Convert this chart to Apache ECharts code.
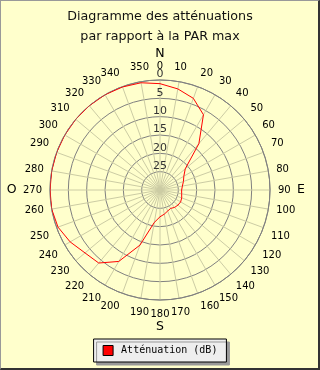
<!DOCTYPE html>
<html><head><meta charset="utf-8">
<script src="https://cdn.jsdelivr.net/npm/echarts@6/dist/echarts.min.js"></script>
<style>
html,body{margin:0;padding:0;background:#fff}
#wrap{position:relative;width:320px;height:370px}
#c{position:absolute;left:0;top:0;width:320px;height:370px;background:#ffffcc}
#frame{position:absolute;left:0;top:0;width:320px;height:370px;box-sizing:border-box;border:1px solid #999;border-right:2px solid #333;border-bottom:2px solid #333;pointer-events:none}
</style>
</head><body>
<div id="wrap"><div id="c"></div><div id="frame"></div></div>
<script>
// Compass angles (degrees, clockwise from North)
const angles = [0,10,20,30,40,50,60,70,80,90,100,110,120,130,140,150,160,170,180,190,200,210,220,230,240,250,260,270,280,290,300,310,320,330,340,350];
// Attenuation in dB
const attenuation = [1.0,2.0,3.4,6.3,13.5,21.0,22.5,23.2,23.8,24.1,24.0,23.7,23.5,23.6,23.8,24.2,23.9,23.3,22.7,21.0,14.0,7.5,4.0,3.3,1.7,0.4,0,0,0,0,0,0,0,0,0.1,0.3];
const seriesName = 'Atténuation (dB)';
const titleLines = ['Diagramme des atténuations', 'par rapport à la PAR max'];
const compass = {0:'N', 90:'E', 180:'S', 270:'O'};
const radialMax = 30;

const data = angles.map((a, i) => [attenuation[i], a]);
data.push([attenuation[0], 360]);

const chart = echarts.init(document.getElementById('c'), null, {renderer:'canvas'});
chart.setOption({
  animation: false,
  backgroundColor: '#ffffcc',
  title: {
    text: titleLines.join('\n'),
    left: 'center', top: 2,
    textStyle: {fontFamily:'DejaVu Sans', fontSize:12.7, fontWeight:'normal', color:'#111', lineHeight:20}
  },
  legend: {
    data: [{name: seriesName, icon: 'rect'}],
    bottom: 8, left: 'center',
    itemWidth: 10, itemHeight: 10,
    itemStyle: {color:'#ff0000', borderColor:'#000', borderWidth:1},
    textStyle: {fontFamily:'DejaVu Sans Mono', fontSize:10, color:'#000', padding:[0,0,0,3]},
    backgroundColor: '#eeeeee', borderColor: '#000', borderWidth: 1, borderRadius: 0,
    padding: [6, 9, 6, 9],
    shadowColor: '#999', shadowOffsetX: 3, shadowOffsetY: 3, shadowBlur: 0
  },
  polar: {center: [160, 190], radius: 110},
  angleAxis: {
    type: 'value', min: 0, max: 360, interval: 10,
    startAngle: 90, clockwise: true,
    axisLine: {show: true, lineStyle: {color:'#808080', width:1}},
    axisTick: {show: false},
    splitLine: {show: true, lineStyle: {color:'#cccca4', width:1}},
    axisLabel: {
      margin: 8, fontFamily:'DejaVu Sans', fontSize: 10, color:'#000', lineHeight: 12,
      formatter: function (v) {
        if (v === 360) return '';
        const c = compass[v];
        if (!c) return String(v);
        if (v === 0) return '{c|' + c + '}\n' + v;
        if (v === 90) return v + '  {c|' + c + '}';
        if (v === 180) return v + '\n{c|' + c + '}';
        return '{c|' + c + '}  ' + v;
      },
      rich: {c: {fontFamily:'DejaVu Sans', fontSize: 12.5, color:'#000', lineHeight: 13}}
    }
  },
  radiusAxis: {
    type: 'value', min: 0, max: radialMax, interval: 5, inverse: true,
    axisLine: {show: false},
    axisTick: {show: false},
    splitLine: {show: true, lineStyle: {color:'#808080', width:1}},
    axisLabel: {
      margin: 0, align: 'center', verticalAlign: 'bottom',
      fontFamily:'DejaVu Sans', fontSize: 11, color:'#333',
      formatter: v => (v === radialMax ? '' : String(v))
    }
  },
  series: [{
    name: seriesName, type: 'line', coordinateSystem: 'polar',
    data: data, symbol: 'none', smooth: false,
    lineStyle: {color:'#ff0000', width: 1},
    itemStyle: {color:'#ff0000'},
    z: 10
  }]
});
</script>
</body></html>
